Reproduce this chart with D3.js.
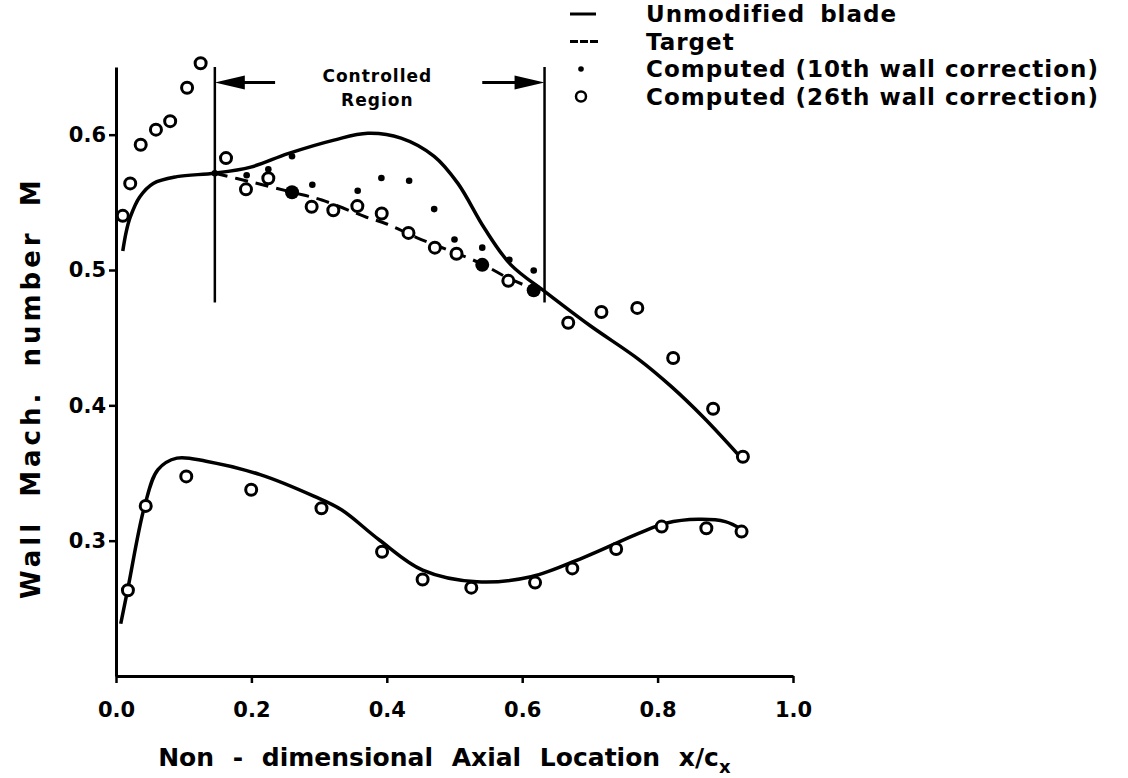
<!DOCTYPE html>
<html>
<head>
<meta charset="utf-8">
<script src="https://cdn.jsdelivr.net/npm/d3@7"></script>
<style>
body { margin: 0; background: #fff; }
text { font-family: "DejaVu Sans", sans-serif; font-weight: bold; fill: #000; }
</style>
</head>
<body>
<svg width="1128" height="778"></svg>
<script>
// unmodified blade, suction side (upper curve)
var upperX = [0.010, 0.015, 0.021, 0.035, 0.055, 0.090, 0.146, 0.199, 0.254, 0.322, 0.372, 0.421, 0.470, 0.505, 0.544, 0.583, 0.635, 0.700, 0.772, 0.820, 0.868, 0.919];
var upperY = [0.514, 0.528, 0.539, 0.554, 0.564, 0.569, 0.5715, 0.576, 0.586, 0.596, 0.601, 0.5975, 0.584, 0.564, 0.531, 0.504, 0.4835, 0.459, 0.434, 0.414, 0.391, 0.3636];

// unmodified blade, pressure side (lower curve)
var lowerX = [0.007, 0.018, 0.042, 0.062, 0.090, 0.133, 0.213, 0.293, 0.333, 0.389, 0.453, 0.533, 0.613, 0.693, 0.772, 0.812, 0.860, 0.900, 0.924];
var lowerY = [0.2386, 0.2658, 0.325, 0.3525, 0.361, 0.3587, 0.3488, 0.3327, 0.3228, 0.3005, 0.2782, 0.2696, 0.2733, 0.2881, 0.3054, 0.3129, 0.3158, 0.3141, 0.3084];

// target distribution in the controlled region
var targetX = [0.146, 0.200, 0.260, 0.304, 0.370, 0.400, 0.444, 0.479, 0.540, 0.577, 0.617];
var targetY = [0.5715, 0.565, 0.5575, 0.5517, 0.539, 0.534, 0.524, 0.517, 0.5046, 0.4946, 0.486];

// computed, 10th wall correction (dots)
var dot10X = [0.146, 0.193, 0.225, 0.260, 0.290, 0.357, 0.392, 0.433, 0.470, 0.500, 0.541, 0.581, 0.617];
var dot10Y = [0.5715, 0.570, 0.5745, 0.584, 0.563, 0.5586, 0.568, 0.566, 0.545, 0.5225, 0.5165, 0.5076, 0.4996];

// computed, 26th wall correction (circles), upper then lower surface
var circ26X = [0.010, 0.021, 0.0365, 0.059, 0.080, 0.105, 0.125, 0.1625, 0.192, 0.225, 0.289, 0.321, 0.3565, 0.3925, 0.432, 0.471, 0.503, 0.5795, 0.668, 0.717, 0.770, 0.823, 0.882, 0.926,
               0.0176, 0.0439, 0.1038, 0.1997, 0.3035, 0.393, 0.4529, 0.5248, 0.619, 0.674, 0.7388, 0.806, 0.872, 0.924];
var circ26Y = [0.540, 0.564, 0.5926, 0.6037, 0.610, 0.6347, 0.6528, 0.5827, 0.5596, 0.5678, 0.5467, 0.5442, 0.5472, 0.5418, 0.5274, 0.5165, 0.512, 0.492, 0.461, 0.469, 0.472, 0.435, 0.3975, 0.362,
               0.2634, 0.3257, 0.3475, 0.3376, 0.324, 0.2918, 0.2713, 0.2653, 0.269, 0.2795, 0.2938, 0.3104, 0.3092, 0.3067];

// circles sitting on the target line (print as solid blobs)
var blobX = [0.260, 0.541, 0.617];
var blobY = [0.5575, 0.5038, 0.485];

// controlled region bounds and its vertical extent
var regionX = [0.146, 0.633];
var regionY = [0.476, 0.65];

var xTicks = [0, 0.2, 0.4, 0.6, 0.8, 1.0];
var yTicks = [0.3, 0.4, 0.5, 0.6];

var legendLabels = ["Unmodified  blade", "Target", "Computed (10th wall correction)", "Computed (26th wall correction)"];

var svg = d3.select("svg");

var x = d3.scaleLinear().domain([0, 1]).range([116, 793]);
var y = d3.scaleLinear().domain([0.2, 0.65]).range([676, 67]);

function zip(xs, ys) { return xs.map(function(v, i) { return [v, ys[i]]; }); }

// axes
var yAxis = svg.append("g")
    .attr("transform", "translate(" + x(0) + ",0)")
    .call(d3.axisLeft(y).tickValues(yTicks).tickSize(7).tickSizeOuter(0).tickPadding(3).tickFormat(d3.format(".1f")));
var xAxis = svg.append("g")
    .attr("transform", "translate(0," + y(0.2) + ")")
    .call(d3.axisBottom(x).tickValues(xTicks).tickSize(7).tickSizeOuter(0).tickPadding(19).tickFormat(d3.format(".1f")));

[xAxis, yAxis].forEach(function(a) {
    a.select(".domain").attr("stroke", "#000").attr("stroke-width", 3);
    a.selectAll(".tick line").attr("stroke", "#000").attr("stroke-width", 2.5);
    a.selectAll(".tick text").style("font-size", "21px").style("font-family", "DejaVu Sans").style("font-weight", "bold");
});

var line = d3.line()
    .x(function(d) { return x(d[0]); })
    .y(function(d) { return y(d[1]); })
    .curve(d3.curveCatmullRom.alpha(0.5));

// controlled region markers
regionX.forEach(function(v) {
    svg.append("line")
        .attr("x1", x(v)).attr("x2", x(v))
        .attr("y1", y(regionY[0])).attr("y2", y(regionY[1]))
        .attr("stroke", "#000").attr("stroke-width", 2.5);
});

var arrowY = y(0.6385);
svg.append("line").attr("x1", x(regionX[0]) + 20).attr("x2", x(0.235)).attr("y1", arrowY).attr("y2", arrowY)
    .attr("stroke", "#000").attr("stroke-width", 3);
svg.append("path")
    .attr("d", "M" + x(regionX[0]) + "," + arrowY + "l30,-7l0,14z").attr("fill", "#000");
svg.append("line").attr("x1", x(0.541)).attr("x2", x(regionX[1]) - 20).attr("y1", arrowY).attr("y2", arrowY)
    .attr("stroke", "#000").attr("stroke-width", 3);
svg.append("path")
    .attr("d", "M" + x(regionX[1]) + "," + arrowY + "l-30,-7l0,14z").attr("fill", "#000");

svg.append("text").attr("x", x(0.386)).attr("y", arrowY - 1).attr("text-anchor", "middle")
    .style("font-size", "17px").style("letter-spacing", "1px").text("Controlled");
svg.append("text").attr("x", x(0.386)).attr("y", arrowY + 23).attr("text-anchor", "middle")
    .style("font-size", "17px").style("letter-spacing", "1px").text("Region");

// curves
svg.append("path").datum(zip(upperX, upperY)).attr("d", line)
    .attr("fill", "none").attr("stroke", "#000").attr("stroke-width", 3.5);
svg.append("path").datum(zip(lowerX, lowerY)).attr("d", line)
    .attr("fill", "none").attr("stroke", "#000").attr("stroke-width", 3.5);
svg.append("path").datum(zip(targetX, targetY)).attr("d", line)
    .attr("fill", "none").attr("stroke", "#000").attr("stroke-width", 3)
    .attr("stroke-dasharray", "13,8");

// markers
svg.selectAll(".c26").data(zip(circ26X, circ26Y)).enter().append("circle")
    .attr("class", "c26")
    .attr("cx", function(d) { return x(d[0]); })
    .attr("cy", function(d) { return y(d[1]); })
    .attr("r", 5.5)
    .attr("fill", "#fff").attr("stroke", "#000").attr("stroke-width", 3);

svg.selectAll(".blob").data(zip(blobX, blobY)).enter().append("circle")
    .attr("class", "blob")
    .attr("cx", function(d) { return x(d[0]); })
    .attr("cy", function(d) { return y(d[1]); })
    .attr("r", 7).attr("fill", "#000");

svg.selectAll(".d10").data(zip(dot10X, dot10Y)).enter().append("circle")
    .attr("class", "d10")
    .attr("cx", function(d) { return x(d[0]); })
    .attr("cy", function(d) { return y(d[1]); })
    .attr("r", 3.3).attr("fill", "#000");

// legend
var leg = svg.append("g").attr("transform", "translate(570,0)");
var rowY = [14, 41.5, 69, 96.5];
leg.append("line").attr("x1", 0).attr("x2", 26).attr("y1", rowY[0]).attr("y2", rowY[0])
    .attr("stroke", "#000").attr("stroke-width", 3);
leg.append("line").attr("x1", 0).attr("x2", 28).attr("y1", rowY[1]).attr("y2", rowY[1])
    .attr("stroke", "#000").attr("stroke-width", 3).attr("stroke-dasharray", "8,2");
leg.append("circle").attr("cx", 11).attr("cy", rowY[2]).attr("r", 2.8).attr("fill", "#000");
leg.append("circle").attr("cx", 11).attr("cy", rowY[3]).attr("r", 5).attr("fill", "none")
    .attr("stroke", "#000").attr("stroke-width", 2.5);
legendLabels.forEach(function(t, i) {
    leg.append("text").attr("x", 76).attr("y", rowY[i]).attr("dy", "0.36em")
        .style("font-size", "23px").style("letter-spacing", "1px")
        .style("word-spacing", i == 0 ? "6px" : "0px").text(t);
});

// axis titles
svg.append("text")
    .attr("transform", "translate(40," + y(0.413) + ") rotate(-90)")
    .attr("text-anchor", "middle").style("font-size", "26px")
    .style("letter-spacing", "4px").style("word-spacing", "10px")
    .text("Wall Mach. number M");

var xt = svg.append("text").attr("x", x(0.485)).attr("y", 766).attr("text-anchor", "middle")
    .style("font-size", "25px").style("word-spacing", "10px");
xt.append("tspan").text("Non - dimensional Axial Location  x/c");
xt.append("tspan").attr("dy", 7).style("font-size", "18px").text("x");
</script>
</body>
</html>
